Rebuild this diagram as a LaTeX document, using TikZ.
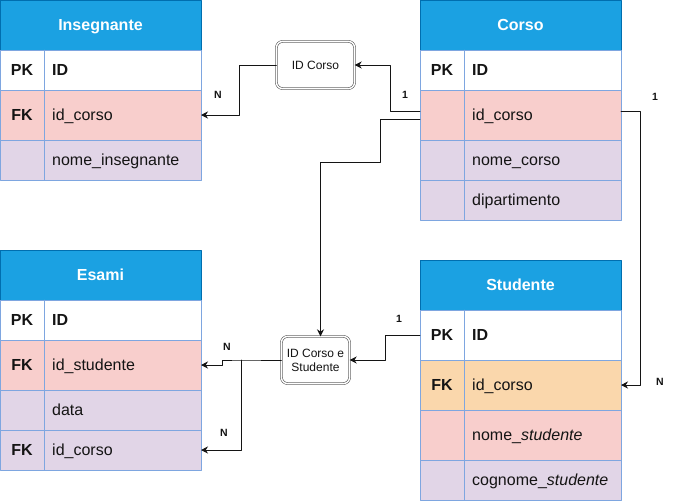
\documentclass[tikz,border=0pt]{standalone}
\usepackage{fontspec}
\setmainfont{Liberation Sans}
\usetikzlibrary{positioning,arrows.meta}
\definecolor{ink}{RGB}{20,20,20}
\definecolor{hdr}{RGB}{27,161,226}
\definecolor{hdrline}{RGB}{0,110,175}
\definecolor{tblline}{RGB}{126,166,224}
\definecolor{rowpink}{RGB}{248,206,204}
\definecolor{rowlilac}{RGB}{225,213,231}
\definecolor{rowpeach}{RGB}{250,215,172}
\tikzset{
  tblhead/.style={draw=hdrline,fill=hdr,text=white,font=\fontsize{16}{18}\selectfont\bfseries,
    minimum width=201pt,minimum height=50pt,inner sep=0pt,outer sep=0pt,anchor=north west,
    text height=11.5pt,text depth=0pt},
  tblrow/.style={draw=tblline,fill=#1,minimum width=201pt,minimum height=40pt,inner sep=0pt,outer sep=0pt},
  tallrow/.style={tblrow=#1,minimum height=50pt},
  keytxt/.style={font=\fontsize{16}{18}\selectfont\bfseries,text=ink,inner sep=0pt,text height=11.5pt,text depth=0pt},
  fldtxt/.style={font=\fontsize{16}{18}\selectfont,text=ink,anchor=west,inner sep=0pt,text height=11.5pt,text depth=0pt},
  pktxt/.style={fldtxt,font=\fontsize{16}{18}\selectfont\bfseries},
  relbox/.style={draw=ink,double,double distance=1.6pt,rounded corners=6pt,fill=white,
    font=\fontsize{12}{14}\selectfont,text=ink,align=center,inner sep=2pt,minimum height=47pt},
  conn/.style={draw=ink,line width=.9pt,-{Stealth[length=7pt,width=7pt]}},
  card/.style={font=\fontsize{10.5}{12}\selectfont\bfseries,text=ink}
}
\begin{document}
\begin{tikzpicture}[x=1pt,y=-1pt,line cap=round,line join=round]
\useasboundingbox[fill=white] (0,0) rectangle (691,501);

\node[tblhead] (ins) at (0,0) {Insegnante};
\node[tblrow=white,below=0pt of ins] (ins-pk) {};
\node[tallrow=rowpink,below=0pt of ins-pk] (ins-fk) {};
\node[tblrow=rowlilac,below=0pt of ins-fk] (ins-nome) {};
\draw[tblline] ([xshift=44pt]ins-pk.north west) -- ([xshift=44pt]ins-nome.south west);
\node[keytxt] (ins-pk-k) at ([xshift=22pt]ins-pk.west) {PK};
\node[pktxt] (ins-pk-f) at ([xshift=52pt]ins-pk.west) {ID};
\node[keytxt] (ins-fk-k) at ([xshift=22pt]ins-fk.west) {FK};
\node[fldtxt] (ins-fk-f) at ([xshift=52pt]ins-fk.west) {id\_corso};
\node[fldtxt] (ins-nome-f) at ([xshift=52pt]ins-nome.west) {nome\_insegnante};

\node[tblhead] (cor) at (420,0) {Corso};
\node[tblrow=white,below=0pt of cor] (cor-pk) {};
\node[tallrow=rowpink,below=0pt of cor-pk] (cor-idc) {};
\node[tblrow=rowlilac,below=0pt of cor-idc] (cor-nome) {};
\node[tblrow=rowlilac,below=0pt of cor-nome] (cor-dip) {};
\draw[tblline] ([xshift=44pt]cor-pk.north west) -- ([xshift=44pt]cor-dip.south west);
\node[keytxt] (cor-pk-k) at ([xshift=22pt]cor-pk.west) {PK};
\node[pktxt] (cor-pk-f) at ([xshift=52pt]cor-pk.west) {ID};
\node[fldtxt] (cor-idc-f) at ([xshift=52pt]cor-idc.west) {id\_corso};
\node[fldtxt] (cor-nome-f) at ([xshift=52pt]cor-nome.west) {nome\_corso};
\node[fldtxt] (cor-dip-f) at ([xshift=52pt]cor-dip.west) {dipartimento};

\node[tblhead] (esa) at (0,250) {Esami};
\node[tblrow=white,below=0pt of esa] (esa-pk) {};
\node[tallrow=rowpink,below=0pt of esa-pk] (esa-stu) {};
\node[tblrow=rowlilac,below=0pt of esa-stu] (esa-data) {};
\node[tblrow=rowlilac,below=0pt of esa-data] (esa-cor) {};
\draw[tblline] ([xshift=44pt]esa-pk.north west) -- ([xshift=44pt]esa-cor.south west);
\node[keytxt] (esa-pk-k) at ([xshift=22pt]esa-pk.west) {PK};
\node[pktxt] (esa-pk-f) at ([xshift=52pt]esa-pk.west) {ID};
\node[keytxt] (esa-stu-k) at ([xshift=22pt]esa-stu.west) {FK};
\node[fldtxt] (esa-stu-f) at ([xshift=52pt]esa-stu.west) {id\_studente};
\node[fldtxt] (esa-data-f) at ([xshift=52pt]esa-data.west) {data};
\node[keytxt] (esa-cor-k) at ([xshift=22pt]esa-cor.west) {FK};
\node[fldtxt] (esa-cor-f) at ([xshift=52pt]esa-cor.west) {id\_corso};

\node[tblhead] (stu) at (420,260) {Studente};
\node[tallrow=white,below=0pt of stu] (stu-pk) {};
\node[tallrow=rowpeach,below=0pt of stu-pk] (stu-fk) {};
\node[tallrow=rowpink,below=0pt of stu-fk] (stu-nome) {};
\node[tblrow=rowlilac,below=0pt of stu-nome] (stu-cogn) {};
\draw[tblline] ([xshift=44pt]stu-pk.north west) -- ([xshift=44pt]stu-cogn.south west);
\node[keytxt] (stu-pk-k) at ([xshift=22pt]stu-pk.west) {PK};
\node[pktxt] (stu-pk-f) at ([xshift=52pt]stu-pk.west) {ID};
\node[keytxt] (stu-fk-k) at ([xshift=22pt]stu-fk.west) {FK};
\node[fldtxt] (stu-fk-f) at ([xshift=52pt]stu-fk.west) {id\_corso};
\node[fldtxt] (stu-nome-f) at ([xshift=52pt]stu-nome.west) {nome\_\textit{studente}};
\node[fldtxt] (stu-cogn-f) at ([xshift=52pt]stu-cogn.west) {cognome\_\textit{studente}};

\node[relbox,minimum width=78pt] (rel-corso) at (315.5,65) {ID Corso};
\node[relbox,minimum width=68pt] (rel-esame) at (315.5,360) {ID Corso e\\Studente};

\draw[conn] ([yshift=4pt]cor-idc.west) -- ++(-30,0) |- (rel-corso.east);
\draw[conn] (rel-corso.west) -- ++(-37,0) |- (ins-fk.east);
\draw[conn] ([yshift=-4pt]cor-idc.west) -- ++(-40,0) -- ++(0,43) -| ([xshift=5pt]rel-esame.north);
\draw[conn] (stu-pk.west) -- ++(-35,0) |- (rel-esame.east);
\draw[conn] (rel-esame.west) -- ++(-40,0) coordinate (fork) -- ++(-19,0) |- (esa-stu.east);
\draw[conn] (fork) |- (esa-cor.east);
\draw[conn] ([yshift=4pt]cor-idc.east) -- ++(19,0) |- (stu-fk.east);

\node[card] (card-cor1) at (405,95) {1};
\node[card] (card-insn) at (218,95) {N};
\node[card] (card-stu1) at (399,319) {1};
\node[card] (card-esan1) at (227,347) {N};
\node[card] (card-esan2) at (224,433) {N};
\node[card] (card-cor2) at (655,97) {1};
\node[card] (card-stun) at (660,382) {N};
\end{tikzpicture}
\end{document}
